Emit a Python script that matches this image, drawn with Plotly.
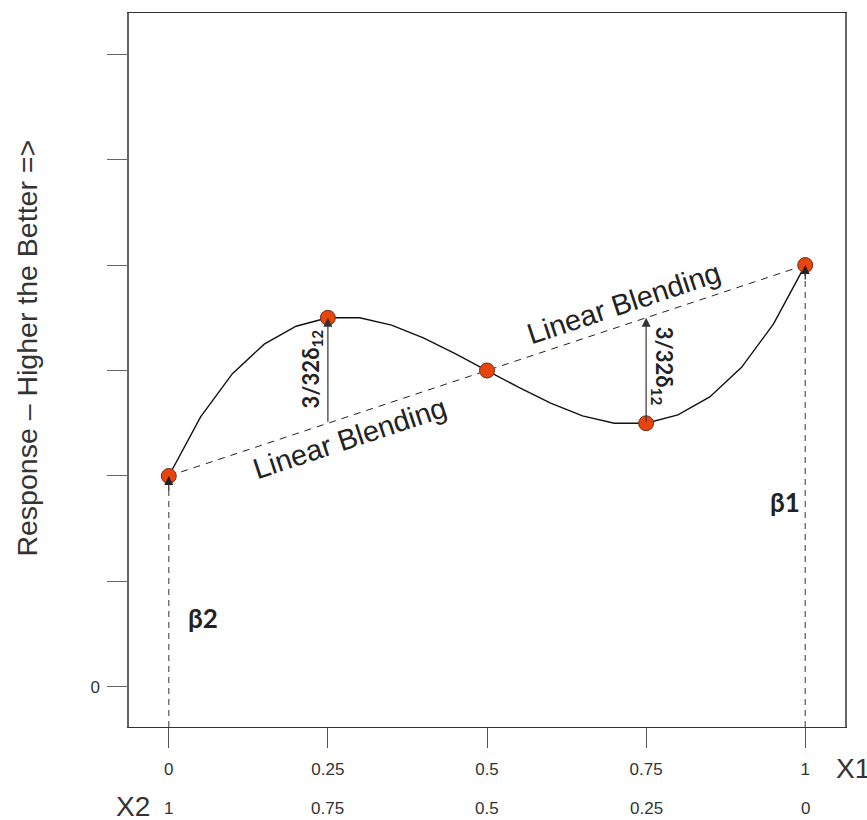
import plotly.graph_objects as go

# ---- data ----
curve_x = [0.0, 0.05, 0.10, 0.15, 0.20, 0.25, 0.30, 0.35, 0.40, 0.45, 0.50,
           0.55, 0.60, 0.65, 0.70, 0.75, 0.80, 0.85, 0.90, 0.95, 1.0]
curve_y = [2.00, 2.56, 2.97, 3.25, 3.42, 3.50, 3.50, 3.43, 3.31, 3.16, 3.00,
           2.84, 2.69, 2.57, 2.50, 2.50, 2.58, 2.75, 3.03, 3.44, 4.00]
point_x = [0.0, 0.25, 0.5, 0.75, 1.0]
point_y = [2.0, 3.5, 3.0, 2.5, 4.0]
linear_x = [0.0, 1.0]
linear_y = [2.0, 4.0]
blend_x = [0.25, 0.75]
blend_from = [2.5, 2.5]
blend_to = [3.5, 3.5]
beta1 = 4.0
beta2 = 2.0
x1_ticks = [0, 0.25, 0.5, 0.75, 1]
x1_labels = ["0", "0.25", "0.5", "0.75", "1"]
x2_labels = ["1", "0.75", "0.5", "0.25", "0"]
y_ticks = [0]
y_labels = ["0"]

Y_MIN, Y_MAX = -0.38, 6.39
X_MIN, X_MAX = -0.0625, 1.0625

TXT = "#333333"
SANS = "Liberation Sans, Arial, sans-serif"
BOLD = "Lato, Open Sans, sans-serif"

fig = go.Figure()

# dashed vertical lines for beta2 / beta1
for xv, yv in [(0.0, beta2), (1.0, beta1)]:
    fig.add_shape(type="line", x0=xv, x1=xv, y0=Y_MIN, y1=yv, xref="x", yref="y",
                  line=dict(color="#555555", width=1.2, dash="6px,5px"))

# linear blending dashed line
fig.add_trace(go.Scatter(x=linear_x, y=linear_y, mode="lines",
                         line=dict(color="#222222", width=1, dash="7px,6px"),
                         hoverinfo="skip", showlegend=False))
# cubic curve
fig.add_trace(go.Scatter(x=curve_x, y=curve_y, mode="lines",
                         line=dict(color="#111111", width=1.4),
                         hoverinfo="skip", showlegend=False))
# points
fig.add_trace(go.Scatter(x=point_x, y=point_y, mode="markers",
                         marker=dict(size=15, color="#E8440C",
                                     line=dict(color="#6a3020", width=1)),
                         hoverinfo="skip", showlegend=False))

# arrows between linear blend and curve
for xv, y0, y1 in zip(blend_x, blend_from, blend_to):
    fig.add_annotation(x=xv, y=y1, ax=xv, ay=y0, xref="x", yref="y", axref="x", ayref="y",
                       text="", showarrow=True, arrowhead=2, arrowsize=1.5,
                       arrowwidth=1.2, arrowcolor="#333333")
# arrowheads at beta points
for xv, yv in [(0.0, beta2), (1.0, beta1)]:
    fig.add_annotation(x=xv, y=yv, ax=0, ay=16, xref="x", yref="y",
                       text="", showarrow=True, arrowhead=2, arrowsize=1.5,
                       arrowwidth=1.2, arrowcolor="#222222")

# Linear blending labels
fig.add_annotation(x=0.285, y=2.36, xref="x", yref="y", text="Linear Blending",
                   showarrow=False, textangle=-18.4,
                   font=dict(family=SANS, size=29, color="#222222"))
fig.add_annotation(x=0.716, y=3.64, xref="x", yref="y", text="Linear Blending",
                   showarrow=False, textangle=-18.4,
                   font=dict(family=SANS, size=29, color="#222222"))

# 3/32 delta labels
fig.add_annotation(x=0.225, y=3.02, xref="x", yref="y", text="3/32δ<sub>12</sub>",
                   showarrow=False, textangle=-90,
                   font=dict(family=BOLD, size=22, color="#222222", weight="bold"))
fig.add_annotation(x=0.776, y=3.04, xref="x", yref="y", text="3/32δ<sub>12</sub>",
                   showarrow=False, textangle=90,
                   font=dict(family=BOLD, size=22, color="#222222", weight="bold"))

# beta labels
fig.add_annotation(x=0.969, y=1.75, xref="x", yref="y", text="β1",
                   showarrow=False, font=dict(family=BOLD, size=26, color="#222222", weight="bold"))
fig.add_annotation(x=0.054, y=0.65, xref="x", yref="y", text="β2",
                   showarrow=False, font=dict(family=BOLD, size=26, color="#222222", weight="bold"))

# second row (X2) tick labels
for xv, lab in zip(x1_ticks, x2_labels):
    fig.add_annotation(x=xv, y=0, xref="x", yref="paper", yanchor="middle",
                       xanchor="center", yshift=-81, text=lab, showarrow=False,
                       font=dict(family=SANS, size=17, color=TXT))
fig.add_annotation(x=(133 - 129) / 716, y=0, xref="paper", yref="paper",
                   xanchor="center", yanchor="middle", yshift=-79, text="X2",
                   showarrow=False, font=dict(family=SANS, size=28, color=TXT))
fig.add_annotation(x=(853 - 129) / 716, y=0, xref="paper", yref="paper",
                   xanchor="center", yanchor="middle", yshift=-41, text="X1",
                   showarrow=False, font=dict(family=SANS, size=28, color=TXT))

# y-axis title
fig.add_annotation(x=(27 - 129) / 716, y=0.53, xref="paper", yref="paper",
                   xanchor="center", yanchor="middle",
                   text="Response – Higher the Better =>", showarrow=False,
                   textangle=-90, font=dict(family=SANS, size=28.5, color=TXT))

fig.update_xaxes(range=[X_MIN, X_MAX], tickvals=x1_ticks, ticktext=x1_labels,
                 ticks="outside", ticklen=20, tickcolor="#555555", tickwidth=1.2,
                 showline=True, linecolor="#333333", linewidth=1.3, mirror=True,
                 showgrid=False, zeroline=False, ticklabelstandoff=6,
                 tickfont=dict(family=SANS, size=17, color=TXT))
fig.update_yaxes(range=[Y_MIN, Y_MAX], tickvals=y_ticks, ticktext=y_labels,
                 ticks="outside", ticklen=20, tickcolor="#666666", tickwidth=1.3,
                 minor=dict(tick0=0, dtick=1, ticks="outside", ticklen=20,
                            tickcolor="#666666", tickwidth=1.3, showgrid=False),
                 showline=True, linecolor="#666666", linewidth=1.5, mirror=True,
                 showgrid=False, zeroline=False, ticklabelstandoff=4,
                 tickfont=dict(family=SANS, size=17, color=TXT))

fig.update_layout(width=867, height=820, margin=dict(l=129, r=22, t=13, b=93),
                  plot_bgcolor="white", paper_bgcolor="white", showlegend=False)

fig.write_html("out.html", config={"displayModeBar": False},
               post_script="document.body.style.margin='0';document.body.style.padding='0';")
